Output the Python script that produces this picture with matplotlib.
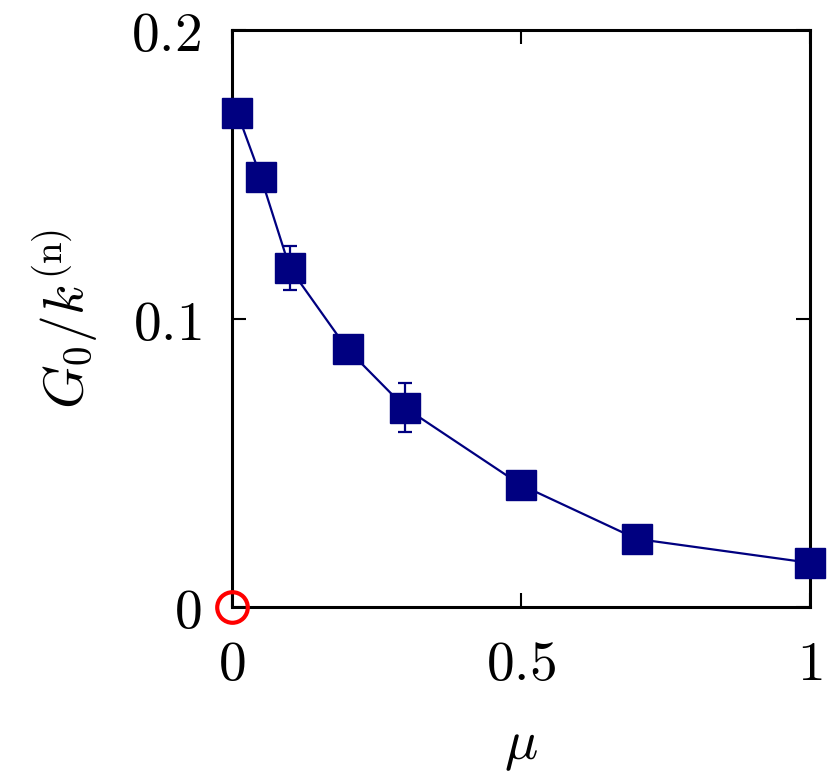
import matplotlib
matplotlib.use("Agg")
import matplotlib.pyplot as plt

plt.rcParams["mathtext.fontset"] = "cm"

# data
MU = [0.009, 0.05, 0.1, 0.2, 0.3, 0.5, 0.7, 1.0]
G0_OVER_K = [0.1714, 0.149, 0.1175, 0.0893, 0.069, 0.0423, 0.0236, 0.0153]
G0_ERR = [0.0, 0.0, 0.0075, 0.002, 0.0085, 0.0, 0.0, 0.0]
REF_X = [0.0]
REF_Y = [0.0]

X_TICKS = [0, 0.5, 1]
X_TICK_LABELS = [r"$0$", r"$0.5$", r"$1$"]
Y_TICKS = [0, 0.1, 0.2]
Y_TICK_LABELS = [r"$0$", r"$0.1$", r"$0.2$"]

NAVY = "#000080"

fig = plt.figure(figsize=(8.30, 7.74), dpi=100)
ax = fig.add_axes([0.2795, 0.2158, 0.6964, 0.7454])

ax.errorbar(MU, G0_OVER_K, yerr=G0_ERR, color=NAVY, lw=1.6, marker="s",
            markersize=21.5, elinewidth=1.6, capsize=4.7, capthick=1.6,
            clip_on=False, zorder=3)
ax.plot(REF_X, REF_Y, "o", markersize=22, markerfacecolor="none",
        markeredgecolor="red", markeredgewidth=3, clip_on=False, zorder=4)

ax.set_xlim(0, 1)
ax.set_ylim(0, 0.2)
ax.set_xticks(X_TICKS)
ax.set_xticklabels(X_TICK_LABELS)
ax.set_yticks(Y_TICKS)
ax.set_yticklabels(Y_TICK_LABELS)

ax.tick_params(direction="in", length=10, width=1.5, top=True, right=True,
               labelsize=40)
ax.tick_params(axis="x", pad=22)
ax.tick_params(axis="y", pad=22)
for spine in ax.spines.values():
    spine.set_linewidth(2.2)

ax.set_xlabel(r"$\mu$", fontsize=40, labelpad=20)
ax.set_ylabel(r"$G_0/k^{(\mathrm{n})}$", fontsize=40, labelpad=22)

fig.savefig("out.png", dpi=100)
